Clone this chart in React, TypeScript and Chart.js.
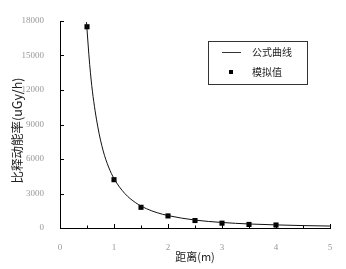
import React, { useEffect, useRef } from "react";
import { Chart, registerables } from "chart.js";

Chart.register(...registerables);

// Simulated values (模拟值)
const simX = [0.5, 1.0, 1.5, 2.0, 2.5, 3.0, 3.5, 4.0];
const simY = [17500, 4200, 1800, 1050, 650, 420, 310, 260];

// Formula curve (公式曲线)
const curveX = [0.49, 0.55, 0.6, 0.7, 0.8, 0.9, 1.0, 1.2, 1.4, 1.6, 1.8, 2.0, 2.5, 3.0, 3.5, 4.0, 4.5, 5.0];
const curveY = [17900, 14200, 11900, 8800, 6700, 5300, 4300, 3000, 2200, 1680, 1330, 1080, 690, 480, 350, 270, 210, 170];

const xTicks = [0, 1, 2, 3, 4, 5];
const yTicks = [0, 3000, 6000, 9000, 12000, 15000, 18000];

const legendLabels = ["公式曲线", "模拟值"];
const xTitle = "距离(m)";
const yTitle = "比释动能率(uGy/h)";

const CJK = '"Noto Sans CJK SC", sans-serif';
const SERIF = '"Liberation Serif", "DejaVu Serif", serif';

export default function App() {
  const ref = useRef<HTMLCanvasElement | null>(null);

  useEffect(() => {
    if (!ref.current) return;
    const decor = {
      id: "decor",
      afterDraw(chart: any) {
        const ctx = chart.ctx;
        const xs = chart.scales.x;
        const ys = chart.scales.y;
        const { left, right, top, bottom } = chart.chartArea;
        ctx.save();
        ctx.strokeStyle = "#000";
        ctx.lineWidth = 1;
        // inward ticks
        ctx.beginPath();
        for (let v = 0; v <= 5.001; v += 0.5) {
          const px = Math.round(xs.getPixelForValue(v)) + 0.5;
          const len = Math.abs(v - Math.round(v)) < 0.01 ? 4 : 2.5;
          ctx.moveTo(px, bottom);
          ctx.lineTo(px, bottom - len);
        }
        for (const v of yTicks) {
          const py = Math.round(ys.getPixelForValue(v)) + 0.5;
          ctx.moveTo(left, py);
          ctx.lineTo(left + 4, py);
        }
        ctx.stroke();

        // titles
        ctx.fillStyle = "#222";
        ctx.font = `11px ${CJK}`;
        ctx.textAlign = "center";
        ctx.textBaseline = "middle";
        ctx.fillText(xTitle, (left + right) / 2, 257);
        ctx.save();
        ctx.translate(17, (top + bottom) / 2 + 6);
        ctx.rotate(-Math.PI / 2);
        ctx.font = `12.5px ${CJK}`;
        ctx.fillText(yTitle, 0, 0);
        ctx.restore();

        // legend
        const bx = 208, by = 41, bw = 99, bh = 43;
        ctx.strokeStyle = "#333";
        ctx.strokeRect(bx + 0.5, by + 0.5, bw, bh);
        ctx.beginPath();
        ctx.moveTo(222, 52.5);
        ctx.lineTo(241, 52.5);
        ctx.stroke();
        ctx.fillStyle = "#000";
        ctx.fillRect(229, 70, 4, 4);
        ctx.fillStyle = "#222";
        ctx.font = `10px ${CJK}`;
        ctx.textAlign = "left";
        ctx.fillText(legendLabels[0], 252, 52);
        ctx.fillText(legendLabels[1], 252, 72);
        ctx.restore();
      },
    };

    const chart = new Chart(ref.current, {
      type: "scatter",
      data: {
        datasets: [
          {
            label: legendLabels[0],
            data: curveX.map((x, i) => ({ x, y: curveY[i] })),
            showLine: true,
            borderColor: "#111",
            borderWidth: 1,
            pointRadius: 0,
            cubicInterpolationMode: "monotone",
          },
          {
            label: legendLabels[1],
            data: simX.map((x, i) => ({ x, y: simY[i] })),
            showLine: false,
            pointStyle: "rect",
            pointRadius: 3.6,
            backgroundColor: "#000",
            borderColor: "#000",
            borderWidth: 0,
          },
        ],
      },
      plugins: [decor],
      options: {
        animation: false,
        responsive: false,
        layout: { padding: { top: 21, right: 16, left: 0, bottom: 0 } },
        plugins: { legend: { display: false }, tooltip: { enabled: false } },
        scales: {
          x: {
            type: "linear",
            min: 0,
            max: 5,
            afterBuildTicks: (s: any) => {
              s.ticks = xTicks.map((v) => ({ value: v }));
            },
            afterFit: (s: any) => {
              s.height = 41;
            },
            grid: { display: false },
            border: { display: true, color: "#000", width: 1 },
            ticks: {
              color: "#999",
              font: { family: SERIF, size: 9 },
              padding: 6,
              maxRotation: 0,
              callback: (v: any) => String(v),
            },
          },
          y: {
            type: "linear",
            min: 0,
            max: 18000,
            afterBuildTicks: (s: any) => {
              s.ticks = yTicks.map((v) => ({ value: v }));
            },
            afterFit: (s: any) => {
              s.width = 60;
            },
            grid: { display: false },
            border: { display: true, color: "#000", width: 1 },
            ticks: {
              color: "#999",
              font: { family: SERIF, size: 9 },
              padding: 8,
              callback: (v: any) => String(v),
            },
          },
        },
      },
    } as any);
    return () => chart.destroy();
  }, []);

  return (
    <div style={{ position: "absolute", left: 0, top: 0, width: 346, height: 269, background: "#fff" }}>
      <canvas ref={ref} width={346} height={269} style={{ width: 346, height: 269 }} />
    </div>
  );
}
